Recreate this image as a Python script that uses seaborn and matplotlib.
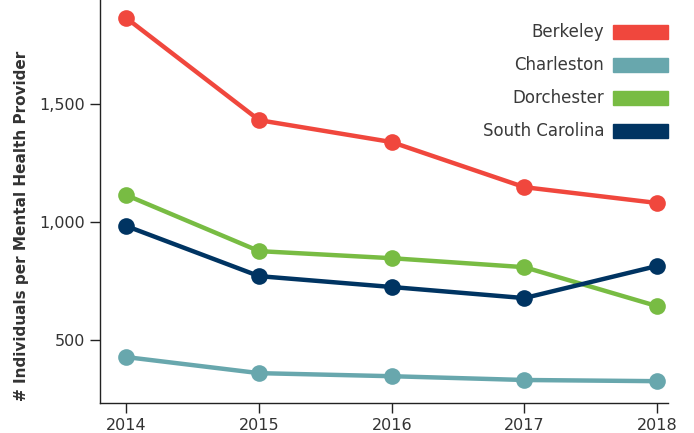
import matplotlib
matplotlib.use("Agg")
import matplotlib.pyplot as plt
import matplotlib.patches as mpatches
from matplotlib.ticker import FuncFormatter
import seaborn as sns
import pandas as pd

years = [2014, 2015, 2016, 2017, 2018]
berkeley = [1864, 1432, 1339, 1148, 1081]
charleston = [428, 360, 347, 331, 326]
dorchester = [1114, 877, 847, 809, 644]
south_carolina = [983, 771, 725, 678, 814]
series_names = ["Berkeley", "Charleston", "Dorchester", "South Carolina"]
colors = ["#F0473D", "#68A7AD", "#78BC43", "#003462"]
y_ticks = [500, 1000, 1500]
y_label = "# Individuals per Mental Health Provider"

rows = []
for name, vals in zip(series_names, [berkeley, charleston, dorchester, south_carolina]):
    for yr, v in zip(years, vals):
        rows.append({"Year": yr, "Value": v, "Region": name})
df = pd.DataFrame(rows)

sns.set_style("white")
plt.rcParams["font.family"] = ["DejaVu Sans"]

fig = plt.figure(figsize=(6.94, 4.33), dpi=100)
ax = fig.add_axes([0.144, 0.069, 0.818, 0.931])

sns.lineplot(data=df, x="Year", y="Value", hue="Region", palette=colors,
             hue_order=series_names, marker="o", markersize=12, linewidth=3.2,
             markeredgewidth=0, ax=ax, legend=False)

ax.set_xlim(2013.8, 2018.08)
ax.set_ylim(233, 1941)
ax.set_xticks(years)
ax.set_xticklabels([str(y) for y in years])
ax.set_yticks(y_ticks)
ax.yaxis.set_major_formatter(FuncFormatter(lambda v, p: f"{int(v):,}"))
ax.tick_params(axis="both", direction="out", length=7, width=1, color="#222222",
               labelsize=11.5, labelcolor="#333333", left=True, bottom=True)
for s in ["top", "right"]:
    ax.spines[s].set_visible(False)
for s in ["left", "bottom"]:
    ax.spines[s].set_color("#222222")
    ax.spines[s].set_linewidth(1)
ax.set_xlabel("")
ax.set_ylabel(y_label, fontsize=11, fontweight="bold", color="#333333")
ax.yaxis.set_label_coords(-0.125, 0.44)

handles = [mpatches.Patch(color=c, label=n) for n, c in zip(series_names, colors)]
leg = ax.legend(handles=handles, loc="upper right", bbox_to_anchor=(1.0, 0.942),
                frameon=False, markerfirst=False, fontsize=12, handlelength=3.3,
                handleheight=0.9, labelspacing=0.9, handletextpad=0.5,
                borderaxespad=0.0, borderpad=0.0, labelcolor="#3a3a3a")

fig.savefig("out.png", dpi=100)
